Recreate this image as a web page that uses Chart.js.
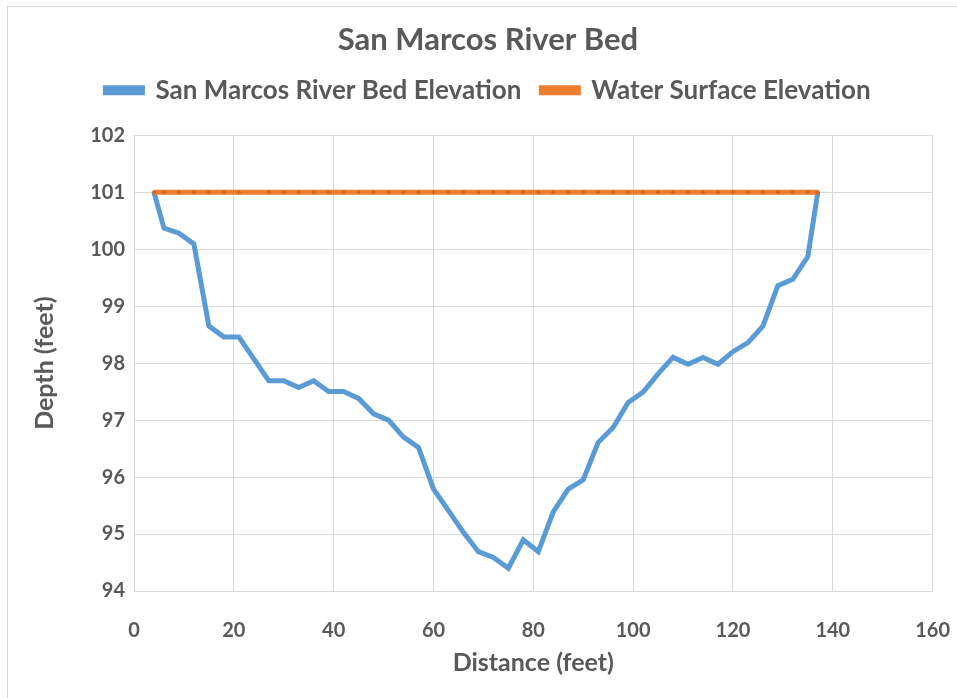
<!DOCTYPE html>
<html>
<head>
<meta charset="utf-8">
<title>San Marcos River Bed</title>
<script src="https://cdn.jsdelivr.net/npm/chart.js@4.4.0/dist/chart.umd.min.js"></script>
<style>
  html, body { margin: 0; padding: 0; background: #fff; overflow: hidden; }
  #frame { position: absolute; left: 7px; top: 6px; width: 980px; height: 720px; border: 1px solid #d9d9d9; }
  #wrap { position: absolute; left: 0; top: 0; width: 957px; height: 698px; }
</style>
</head>
<body>
<div id="frame"></div>
<div id="wrap"><canvas id="myGraph"></canvas></div>
<script>
// distance across the river (feet)
const distance = [4, 6, 9, 12, 15, 18, 21, 27, 30, 33, 36, 39, 42, 45, 48, 51, 54, 57, 60, 63, 66, 69, 72, 75, 78, 81, 84, 87, 90, 93, 96, 99, 102, 105, 108, 111, 114, 117, 120, 123, 126, 129, 132, 135, 137];
// bed elevation
const bedElevation = [101.0, 100.37, 100.28, 100.09, 98.65, 98.46, 98.46, 97.69, 97.69, 97.57, 97.69, 97.5, 97.5, 97.38, 97.11, 97.0, 96.7, 96.52, 95.79, 95.41, 95.03, 94.69, 94.59, 94.4, 94.9, 94.69, 95.39, 95.79, 95.95, 96.61, 96.87, 97.31, 97.49, 97.81, 98.1, 97.98, 98.1, 97.98, 98.2, 98.36, 98.65, 99.36, 99.47, 99.87, 101.0];
// water surface, flat
const waterElevation = [101, 101, 101, 101, 101, 101, 101, 101, 101, 101, 101, 101, 101, 101, 101, 101, 101, 101, 101, 101, 101, 101, 101, 101, 101, 101, 101, 101, 101, 101, 101, 101, 101, 101, 101, 101, 101, 101, 101, 101, 101, 101, 101, 101, 101];

const seriesNames = ["San Marcos River Bed Elevation", "Water Surface Elevation"];
const xTicks = [0, 20, 40, 60, 80, 100, 120, 140, 160];
const yTicks = [94, 95, 96, 97, 98, 99, 100, 101, 102];

const textColor = "#595959";
const gridColor = "#d9d9d9";
const fontName = "Lato, 'Open Sans', sans-serif";

Chart.defaults.font.family = fontName;
Chart.defaults.color = textColor;

// more room under the legend
const legendSpace = {
  id: "legendSpace",
  beforeInit(chart) {
    const fit = chart.legend.fit;
    chart.legend.fit = function () {
      fit.bind(chart.legend)();
      this.height += 22;
    };
  },
};

const ctx = document.getElementById("myGraph").getContext("2d");
const myChart = new Chart(ctx, {
  type: "line",
  data: {
    datasets: [
      {
        label: seriesNames[0],
        data: distance.map((d, i) => ({ x: d, y: bedElevation[i] })),
        borderColor: "#5b9bd5",
        backgroundColor: "#5b9bd5",
        borderWidth: 5,
        pointRadius: 0,
        tension: 0,
        order: 1,
      },
      {
        label: seriesNames[1],
        data: distance.map((d, i) => ({ x: d, y: waterElevation[i] })),
        borderColor: "#ed7d31",
        backgroundColor: "#ed7d31",
        borderWidth: 5,
        pointRadius: 2,
        pointBorderWidth: 0,
        pointBackgroundColor: "#d06a22",
        tension: 0,
        order: 0,
      },
    ],
  },
  options: {
    responsive: true,
    maintainAspectRatio: false,
    animation: false,
    layout: { padding: { left: 24, right: 5, top: 0, bottom: 0 } },
    plugins: {
      title: {
        display: true,
        text: "San Marcos River Bed",
        font: { size: 31, weight: "bold" },
        color: textColor,
        padding: { top: 21, bottom: -1 },
      },
      legend: {
        display: true,
        labels: {
          font: { size: 26, weight: "bold" },
          color: textColor,
          boxWidth: 37,
          boxHeight: 5,
          padding: 20,
          sort: (a, b) => a.datasetIndex - b.datasetIndex,
        },
      },
      tooltip: { enabled: false },
    },
    scales: {
      x: {
        type: "linear",
        min: 0,
        max: 160,
        afterBuildTicks: (scale) => {
          scale.ticks = xTicks.map((v) => ({ value: v }));
        },
        grid: { color: gridColor, drawTicks: true, tickLength: 21, tickColor: "rgba(0,0,0,0)" },
        border: { color: gridColor },
        ticks: { font: { size: 20, weight: "bold" }, color: textColor, padding: 7 },
        title: {
          display: true,
          text: "Distance (feet)",
          font: { size: 25, weight: "bold" },
          color: textColor,
          padding: { top: 0, bottom: 20 },
        },
        afterFit: (scale) => {
          scale.height = 698 - 591;
        },
      },
      y: {
        type: "linear",
        min: 94,
        max: 102,
        afterBuildTicks: (scale) => {
          scale.ticks = yTicks.map((v) => ({ value: v }));
        },
        grid: { color: gridColor, drawTicks: false },
        border: { color: gridColor },
        ticks: { font: { size: 20, weight: "bold" }, color: textColor, padding: 9 },
        title: {
          display: true,
          text: "Depth (feet)",
          font: { size: 25, weight: "bold" },
          color: textColor,
          padding: { top: 6, bottom: 0 },
        },
        afterFit: (scale) => {
          scale.width = 110;
        },
      },
    },
  },
  plugins: [legendSpace],
});
</script>
</body>
</html>
